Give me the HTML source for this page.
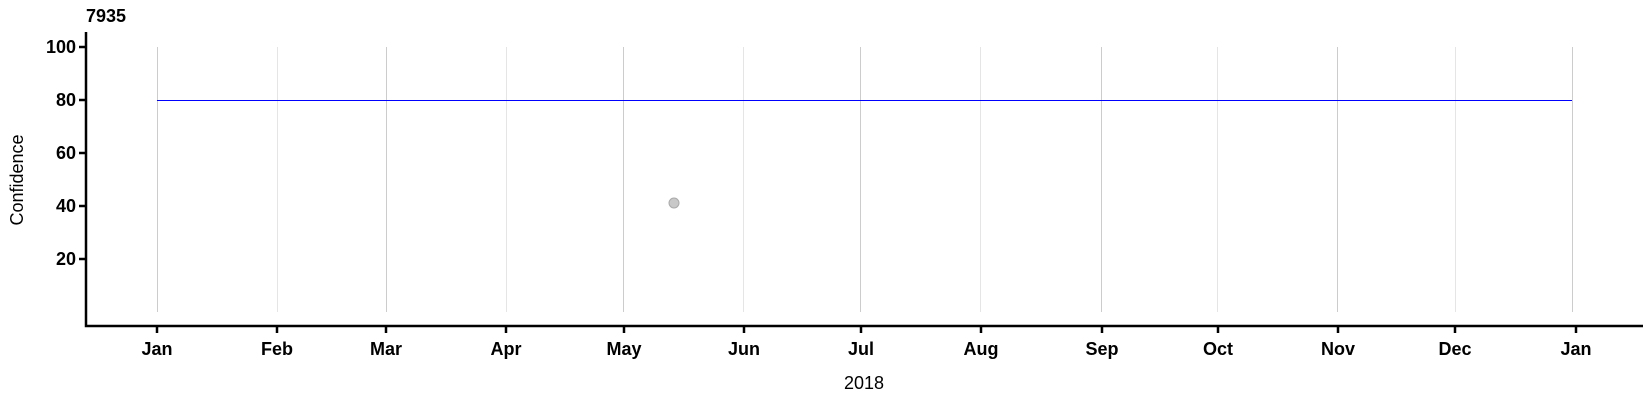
<!DOCTYPE html>
<html><head><meta charset="utf-8"><style>body{margin:0;background:#fff}svg{display:block}</style></head>
<body>
<svg width="1650" height="400" xmlns="http://www.w3.org/2000/svg" font-family="Liberation Sans, Arial, sans-serif">
<g stroke-width="1">
<line x1="157.5" y1="47" x2="157.5" y2="312" stroke="#cccccc"/>
<line x1="277.5" y1="47" x2="277.5" y2="312" stroke="#e5e5e5"/>
<line x1="386.5" y1="47" x2="386.5" y2="312" stroke="#cccccc"/>
<line x1="506.5" y1="47" x2="506.5" y2="312" stroke="#e5e5e5"/>
<line x1="623.5" y1="47" x2="623.5" y2="312" stroke="#cccccc"/>
<line x1="743.5" y1="47" x2="743.5" y2="312" stroke="#e5e5e5"/>
<line x1="860.5" y1="47" x2="860.5" y2="312" stroke="#cccccc"/>
<line x1="980.5" y1="47" x2="980.5" y2="312" stroke="#e5e5e5"/>
<line x1="1101.5" y1="47" x2="1101.5" y2="312" stroke="#cccccc"/>
<line x1="1217.5" y1="47" x2="1217.5" y2="312" stroke="#e5e5e5"/>
<line x1="1337.5" y1="47" x2="1337.5" y2="312" stroke="#cccccc"/>
<line x1="1455.5" y1="47" x2="1455.5" y2="312" stroke="#e5e5e5"/>
<line x1="1572.5" y1="47" x2="1572.5" y2="312" stroke="#cccccc"/>
</g>
<line x1="157" y1="100.5" x2="1572" y2="100.5" stroke="#0000ff" stroke-width="1"/>
<circle cx="674" cy="203" r="5" fill="#c8c8c8" stroke="#aaaaaa" stroke-width="1"/>
<path d="M86 32 V326 H1643" fill="none" stroke="#000" stroke-width="2.5"/>
<g stroke="#000" stroke-width="2.5">
<line x1="79" y1="47" x2="86" y2="47"/><line x1="79" y1="100" x2="86" y2="100"/>
<line x1="79" y1="153" x2="86" y2="153"/><line x1="79" y1="206" x2="86" y2="206"/>
<line x1="79" y1="259" x2="86" y2="259"/>
<line x1="157" y1="326" x2="157" y2="333"/><line x1="277" y1="326" x2="277" y2="333"/>
<line x1="386" y1="326" x2="386" y2="333"/><line x1="506" y1="326" x2="506" y2="333"/>
<line x1="624" y1="326" x2="624" y2="333"/><line x1="744" y1="326" x2="744" y2="333"/>
<line x1="861" y1="326" x2="861" y2="333"/><line x1="981" y1="326" x2="981" y2="333"/>
<line x1="1102" y1="326" x2="1102" y2="333"/><line x1="1218" y1="326" x2="1218" y2="333"/>
<line x1="1338" y1="326" x2="1338" y2="333"/><line x1="1455" y1="326" x2="1455" y2="333"/>
<line x1="1576" y1="326" x2="1576" y2="333"/>
</g>
<g font-size="18" font-weight="bold" text-anchor="end">
<text x="76" y="53">100</text><text x="76" y="106">80</text><text x="76" y="159">60</text>
<text x="76" y="212">40</text><text x="76" y="265">20</text>
</g>
<g font-size="18" font-weight="bold" text-anchor="middle">
<text x="157" y="355">Jan</text><text x="277" y="355">Feb</text><text x="386" y="355">Mar</text>
<text x="506" y="355">Apr</text><text x="624" y="355">May</text><text x="744" y="355">Jun</text>
<text x="861" y="355">Jul</text><text x="981" y="355">Aug</text><text x="1102" y="355">Sep</text>
<text x="1218" y="355">Oct</text><text x="1338" y="355">Nov</text><text x="1455" y="355">Dec</text>
<text x="1576" y="355">Jan</text>
</g>
<text x="86" y="22" font-size="18" font-weight="bold">7935</text>
<text x="864" y="389" font-size="18" text-anchor="middle">2018</text>
<text transform="translate(23,180) rotate(-90)" font-size="18" text-anchor="middle">Confidence</text>
</svg>
</body></html>
